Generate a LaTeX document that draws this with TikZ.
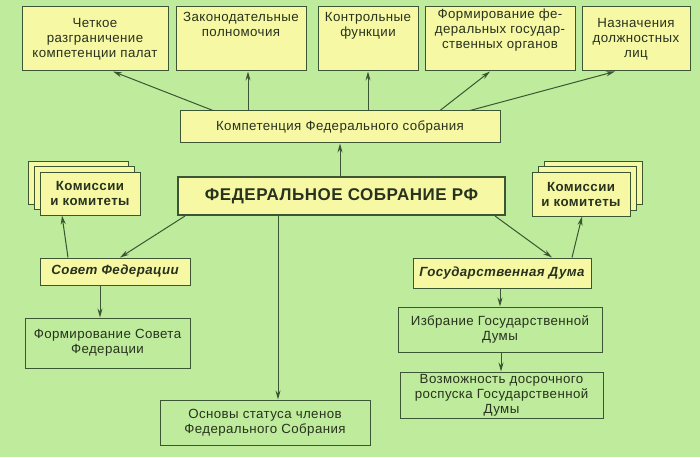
\documentclass[tikz,border=0pt]{standalone}
\usepackage{fontspec}
\setmainfont{Liberation Sans}[LetterSpace=3]
\usetikzlibrary{arrows.meta}
\definecolor{bg}{RGB}{190,236,156}
\definecolor{yel}{RGB}{246,248,164}
\definecolor{ln}{RGB}{60,85,50}
\definecolor{tx}{RGB}{40,50,30}
\tikzset{
 x=1pt,y=-1pt,
 bx/.style={draw=ln,line width=1pt,fill=yel,text=tx,align=center,inner sep=0pt,font=\fontsize{13.3}{15}\selectfont},
 lbx/.style={draw=ln,line width=1pt,text=tx,align=center,inner sep=0pt,font=\fontsize{13.3}{15}\selectfont},
 arr/.style={draw=ln,line width=1pt,-{Stealth[length=9pt,width=5pt]}}
}
\newcommand{\boxat}[5]{\node[#1,minimum width=#4-#2,minimum height=#5-#3] at ({(#2+#4)/2},{(#3+#5)/2})}
\begin{document}
\begin{tikzpicture}
\fill[bg] (0,0) rectangle (700,457);
\useasboundingbox (0,0) rectangle (700,457);
\boxat{bx}{22}{7}{168}{71} (t1) {Четкое\\разграничение\\компетенции палат};
\boxat{bx}{176}{7}{306}{71} (t2) {Законодательные\\полномочия\\[15pt]};
\boxat{bx}{318}{7}{418}{71} (t3) {Контрольные\\функции\\[15pt]};
\boxat{bx}{425}{7}{575}{71} (t4) {Формирование фе-\\деральных государ-\\ственных органов\\[6pt]};
\boxat{bx}{582}{7}{690}{71} (t5) {Назначения\\должностных\\лиц};
\boxat{bx}{180}{111}{500}{143} (comp) {Компетенция Федерального собрания};
\boxat{bx,line width=2pt,font=\fontsize{17}{19}\selectfont\bfseries}{178}{177}{505}{215} (fed) {ФЕДЕРАЛЬНОЕ СОБРАНИЕ РФ};
\boxat{bx}{28}{161}{128}{204} (lk3) {};
\boxat{bx}{34}{166}{134}{209} (lk2) {};
\boxat{bx,font=\fontsize{13.3}{15}\selectfont\bfseries}{40}{172}{140}{215} (lk) {Комиссии\\и комитеты};
\boxat{bx}{544}{161}{642}{204} (rk3) {};
\boxat{bx}{538}{166}{636}{210} (rk2) {};
\boxat{bx,font=\fontsize{13.3}{15}\selectfont\bfseries}{532}{172}{630}{216} (rk) {Комиссии\\и комитеты};
\boxat{bx,font=\fontsize{13.3}{15}\selectfont\bfseries\itshape}{40}{258}{190}{285} (sf) {Совет Федерации};
\boxat{bx,font=\fontsize{13.3}{15}\selectfont\bfseries\itshape}{413}{258}{591}{288} (gd) {Государственная Дума};
\boxat{lbx}{25}{318}{190}{368} (fsf) {Формирование Совета\\Федерации};
\boxat{lbx}{398}{307}{602}{352} (izb) {Избрание Государственной\\Думы};
\boxat{lbx}{400}{372}{603}{418} (vozm) {Возможность досрочного\\роспуска Государственной\\Думы};
\boxat{lbx}{160}{400}{370}{445} (osn) {Основы статуса членов\\Федерального Собрания};
\draw[arr] (comp.north -| 213,0) -- (t1.south -| 113,0);
\draw[arr] (comp.north -| 248,0) -- (t2.south -| 248,0);
\draw[arr] (comp.north -| 368,0) -- (t3.south -| 368,0);
\draw[arr] (comp.north -| 440,0) -- (t4.south -| 490,0);
\draw[arr] (comp.north -| 470,0) -- (t5.south -| 615,0);
\draw[arr] (fed.north -| 340,0) -- (comp.south -| 340,0);
\draw[arr] (fed.south -| 185,0) -- (sf.north -| 120,0);
\draw[arr] (sf.north -| 68,0) -- (lk.south -| 62,0);
\draw[arr] (fed.south -| 495,0) -- (gd.north -| 552,0);
\draw[arr] (gd.north -| 572,0) -- (rk.south -| 582,0);
\draw[arr] (sf.south -| 100,0) -- (fsf.north -| 100,0);
\draw[arr] (gd.south -| 500,0) -- (izb.north -| 500,0);
\draw[arr] (izb.south -| 501,0) -- (vozm.north -| 501,0);
\draw[arr] (fed.south -| 278,0) -- (osn.north -| 278,0);
\end{tikzpicture}
\end{document}
